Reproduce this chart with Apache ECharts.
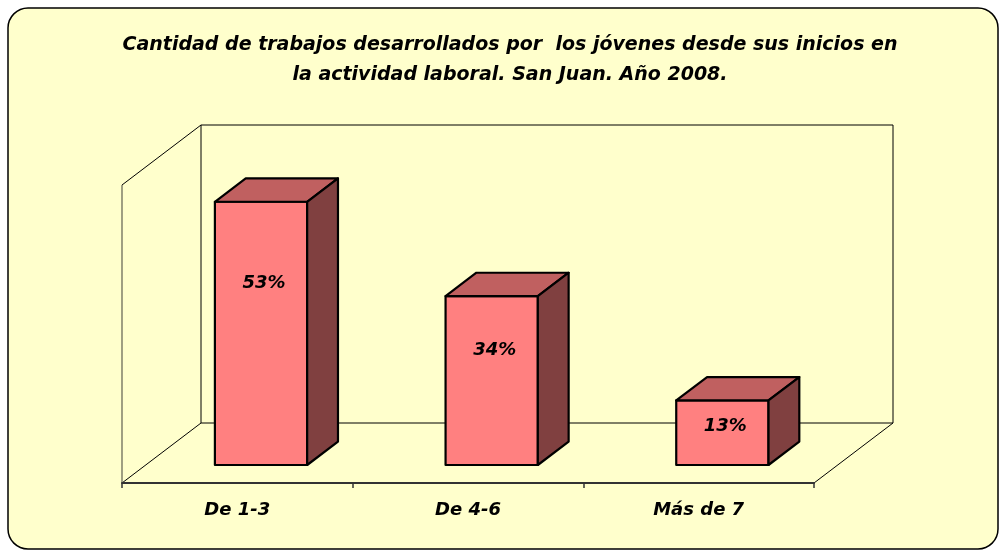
<!DOCTYPE html>
<html>
<head>
<meta charset="utf-8">
<script src="https://cdn.jsdelivr.net/npm/echarts@6/dist/echarts.min.js"></script>
<style>
html,body{margin:0;padding:0;background:#fff;}
#c{width:999px;height:550px;}
</style>
</head>
<body>
<div id="c"></div>
<script>
var categories = ['De 1-3', 'De 4-6', 'Más de 7'];
var values = [53, 34, 13];
var valueLabels = ['53%', '34%', '13%'];
var axisMax = 60;

var FONT = '"DejaVu Sans", sans-serif';
var DEPTH = [79, -60];      // pixel depth vector of the 3D box
var BAR_FRONT = 0.3, BAR_BACK = 0.69, BAR_W = 0.4;

var chart = echarts.init(document.getElementById('c'));

function wallsRender(params, api) {
  var band = api.size([1, 0])[0];
  var p0 = api.coord([0, 0]);
  var pN = api.coord([categories.length - 1, 0]);
  var pT = api.coord([0, axisMax]);
  var xl = p0[0] - band / 2, xr = pN[0] + band / 2, yb = p0[1], yt = pT[1];
  var dx = DEPTH[0], dy = DEPTH[1];
  var ls = {stroke: '#000', lineWidth: 1, fill: null};
  return {
    type: 'group',
    children: [
      {type: 'polygon', shape: {points: [[xl + dx, yt + dy], [xr + dx, yt + dy], [xr + dx, yb + dy], [xl + dx, yb + dy]]}, style: {fill: '#FFFFCC', stroke: '#000', lineWidth: 1}},
      {type: 'line', shape: {x1: xl, y1: yt, x2: xl + dx, y2: yt + dy}, style: ls},
      {type: 'line', shape: {x1: xl, y1: yb, x2: xl + dx, y2: yb + dy}, style: ls},
      {type: 'line', shape: {x1: xr, y1: yb, x2: xr + dx, y2: yb + dy}, style: ls},
      {type: 'line', shape: {x1: xl, y1: yt, x2: xl, y2: yb}, style: {stroke: '#6b6b5a', lineWidth: 1.3}}
    ]
  };
}

function barRender(params, api) {
  var idx = api.value(0), v = api.value(1);
  var band = api.size([1, 0])[0];
  var c = api.coord([idx, 0]);
  var t = api.coord([idx, v]);
  var w = band * BAR_W;
  var fx = DEPTH[0] * BAR_FRONT, fy = DEPTH[1] * BAR_FRONT;
  var bx = DEPTH[0] * BAR_BACK, by = DEPTH[1] * BAR_BACK;
  var x0 = c[0] - w / 2 + fx, x1 = c[0] + w / 2 + fx;
  var y0 = c[1] + fy, y1 = t[1] + fy;
  var ddx = bx - fx, ddy = by - fy;
  var st = {stroke: '#000', lineWidth: 2.2, lineJoin: 'round'};
  var labelY = y0 - ((y0 - y1) * 0.72 - 7.4);
  return {
    type: 'group',
    children: [
      {type: 'polygon', shape: {points: [[x0, y0], [x1, y0], [x1, y1], [x0, y1]]}, style: echarts.util.extend({fill: '#FF8080'}, st)},
      {type: 'polygon', shape: {points: [[x0, y1], [x1, y1], [x1 + ddx, y1 + ddy], [x0 + ddx, y1 + ddy]]}, style: echarts.util.extend({fill: '#C06060'}, st)},
      {type: 'polygon', shape: {points: [[x1, y0], [x1 + ddx, y0 + ddy], [x1 + ddx, y1 + ddy], [x1, y1]]}, style: echarts.util.extend({fill: '#804040'}, st)},
      {type: 'text', x: (x0 + x1) / 2 + 3, y: labelY, style: {text: valueLabels[idx], fill: '#000', font: 'italic bold 18px ' + FONT, align: 'center', verticalAlign: 'middle'}}
    ]
  };
}

chart.setOption({
  animation: false,
  backgroundColor: '#fff',
  graphic: [{
    type: 'rect', z: -10, silent: true,
    shape: {x: 8, y: 8, width: 990, height: 541, r: 20},
    style: {fill: '#FFFFCC', stroke: '#000', lineWidth: 1.5}
  }],
  title: {
    text: 'Cantidad de trabajos desarrollados por  los jóvenes desde sus inicios en\nla actividad laboral. San Juan. Año 2008.',
    left: 505, top: 25, textAlign: 'center',
    textStyle: {fontFamily: FONT, fontStyle: 'italic', fontWeight: 'bold', fontSize: 19, lineHeight: 30, color: '#000'}
  },
  grid: {left: 122, right: 185, top: 185, bottom: 67, containLabel: false},
  xAxis: {
    type: 'category', data: categories,
    axisLine: {show: true, lineStyle: {color: '#333', width: 2}},
    axisTick: {show: true, length: 5, interval: 0, lineStyle: {color: '#333', width: 1.5}},
    axisLabel: {margin: 18, color: '#000', fontFamily: FONT, fontStyle: 'italic', fontWeight: 'bold', fontSize: 18},
    z: 5
  },
  yAxis: {type: 'value', min: 0, max: axisMax, show: false, splitLine: {show: false}},
  series: [
    {type: 'custom', renderItem: wallsRender, data: [[0, 0]], z: 1, silent: true},
    {type: 'custom', renderItem: barRender, data: values.map(function (v, i) { return [i, v]; }), z: 2, silent: true}
  ]
});
</script>
</body>
</html>
